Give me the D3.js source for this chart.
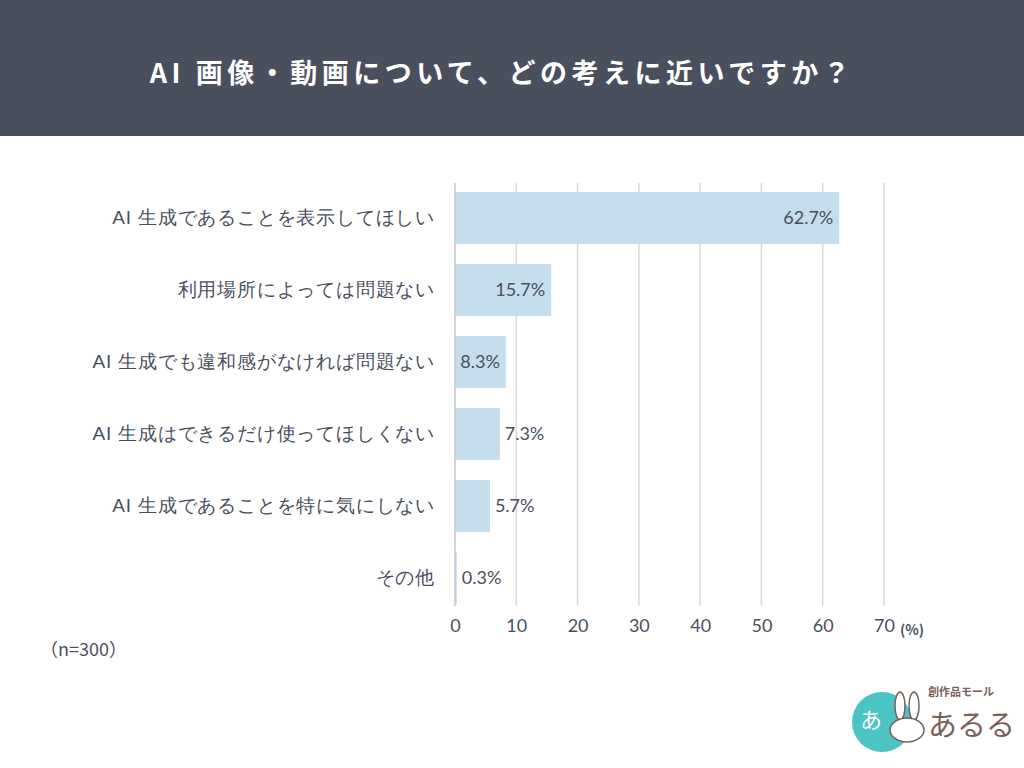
<!DOCTYPE html>
<html>
<head>
<meta charset="utf-8">
<script src="https://cdn.jsdelivr.net/npm/d3@7"></script>
<style>
  body { margin: 0; background: #fff; }
  svg { display: block; font-family: "Noto Sans CJK JP", "Noto Sans", sans-serif; }
</style>
</head>
<body>
<div id="chart"></div>
<script>
// Data
const categories = [
    "AI 生成であることを表示してほしい",
    "利用場所によっては問題ない",
    "AI 生成でも違和感がなければ問題ない",
    "AI 生成はできるだけ使ってほしくない",
    "AI 生成であることを特に気にしない",
    "その他"
];
const values = [62.7, 15.7, 8.3, 7.3, 5.7, 0.3];
const tickValues = [0, 10, 20, 30, 40, 50, 60, 70];

const W = 1024, H = 768;
const textColor = "#4a4f5e";
const numFont = "Lato, 'Noto Sans', sans-serif";

const svg = d3.select("#chart")
    .append("svg")
    .attr("width", W)
    .attr("height", H);

// Header band
svg.append("rect")
    .attr("x", 0).attr("y", 0)
    .attr("width", W).attr("height", 136)
    .attr("fill", "#4a4f5e");

svg.append("text")
    .attr("x", 502)
    .attr("y", 83)
    .attr("text-anchor", "middle")
    .attr("fill", "#fff")
    .style("font-size", "27px")
    .style("font-weight", "bold")
    .style("letter-spacing", "4.5px")
    .text("AI 画像・動画について、どの考えに近いですか？");

// Scales
const x = d3.scaleLinear().domain([0, 70]).range([455, 884]);
const y = d3.scaleBand().domain(categories).range([182, 614]).paddingInner(0.28).paddingOuter(0.14);

// Gridlines
svg.append("g")
    .selectAll("line")
    .data(tickValues.slice(1))
    .enter()
    .append("line")
    .attr("x1", d => x(d)).attr("x2", d => x(d))
    .attr("y1", 183).attr("y2", 606)
    .attr("stroke", "#d9d9d9")
    .attr("stroke-width", 1.5);

// Bars
svg.append("g")
    .selectAll("rect")
    .data(values)
    .enter()
    .append("rect")
    .attr("x", x(0))
    .attr("y", (d, i) => y(categories[i]))
    .attr("width", d => x(d) - x(0))
    .attr("height", y.bandwidth())
    .attr("fill", "#c5ddec");

// Axis line at zero
svg.append("line")
    .attr("x1", x(0)).attr("x2", x(0))
    .attr("y1", 183).attr("y2", 606)
    .attr("stroke", "#c8c8c8")
    .attr("stroke-width", 1.5);

// Bottom tick labels
const xAxis = svg.append("g")
    .attr("transform", "translate(0,606)")
    .call(d3.axisBottom(x).tickValues(tickValues).tickSize(0).tickPadding(13));
xAxis.select(".domain").remove();
xAxis.selectAll("text")
    .attr("fill", textColor)
    .style("font-size", "18px")
    .style("font-family", numFont);

svg.append("text")
    .attr("x", x(70) + 16)
    .attr("y", 635)
    .attr("fill", textColor)
    .style("font-size", "14px")
    .style("font-weight", "bold")
    .text("(%)");

// Category labels
const yAxis = svg.append("g")
    .attr("transform", `translate(${x(0) - 20},0)`)
    .call(d3.axisLeft(y).tickSize(0).tickPadding(0));
yAxis.select(".domain").remove();
yAxis.selectAll("text")
    .attr("fill", textColor)
    .style("font-size", "19px")
    .style("font-weight", "500")
    .style("letter-spacing", "0.8px");

// Value labels
svg.append("g")
    .selectAll("text")
    .data(values)
    .enter()
    .append("text")
    .attr("x", d => d >= 8 ? x(d) - 6 : x(d) + 5)
    .attr("y", (d, i) => y(categories[i]) + y.bandwidth() / 2)
    .attr("dy", "0.36em")
    .attr("text-anchor", d => d >= 8 ? "end" : "start")
    .attr("fill", textColor)
    .style("font-size", "18px")
    .style("font-family", numFont)
    .text(d => d.toFixed(1) + "%");

// Sample size
svg.append("text")
    .attr("x", 40)
    .attr("y", 656)
    .attr("fill", textColor)
    .style("font-size", "18px")
    .text("（n=300）");

// Logo
const brown = "#7a5e5a";
const logo = svg.append("g").attr("transform", "translate(852,688)");
logo.append("circle")
    .attr("cx", 30).attr("cy", 34).attr("r", 30)
    .attr("fill", "#4cc4c4");
logo.append("text")
    .attr("x", 8).attr("y", 40)
    .attr("fill", "#fff")
    .style("font-size", "22px")
    .text("あ");
// rabbit ears and face
logo.append("ellipse")
    .attr("cx", 48).attr("cy", 18).attr("rx", 5).attr("ry", 14)
    .attr("fill", "#fff").attr("stroke", brown).attr("stroke-width", 1.5);
logo.append("ellipse")
    .attr("cx", 62).attr("cy", 18).attr("rx", 5).attr("ry", 14)
    .attr("fill", "#fff").attr("stroke", brown).attr("stroke-width", 1.5);
logo.append("ellipse")
    .attr("cx", 55).attr("cy", 42).attr("rx", 17).attr("ry", 12)
    .attr("fill", "#fff").attr("stroke", brown).attr("stroke-width", 1.5);
logo.append("text")
    .attr("x", 76).attr("y", 8)
    .attr("fill", brown)
    .style("font-size", "11px")
    .style("font-weight", "bold")
    .text("創作品モール");
logo.append("text")
    .attr("x", 76).attr("y", 48)
    .attr("fill", brown)
    .style("font-size", "29px")
    .text("あるる");
</script>
</body>
</html>
